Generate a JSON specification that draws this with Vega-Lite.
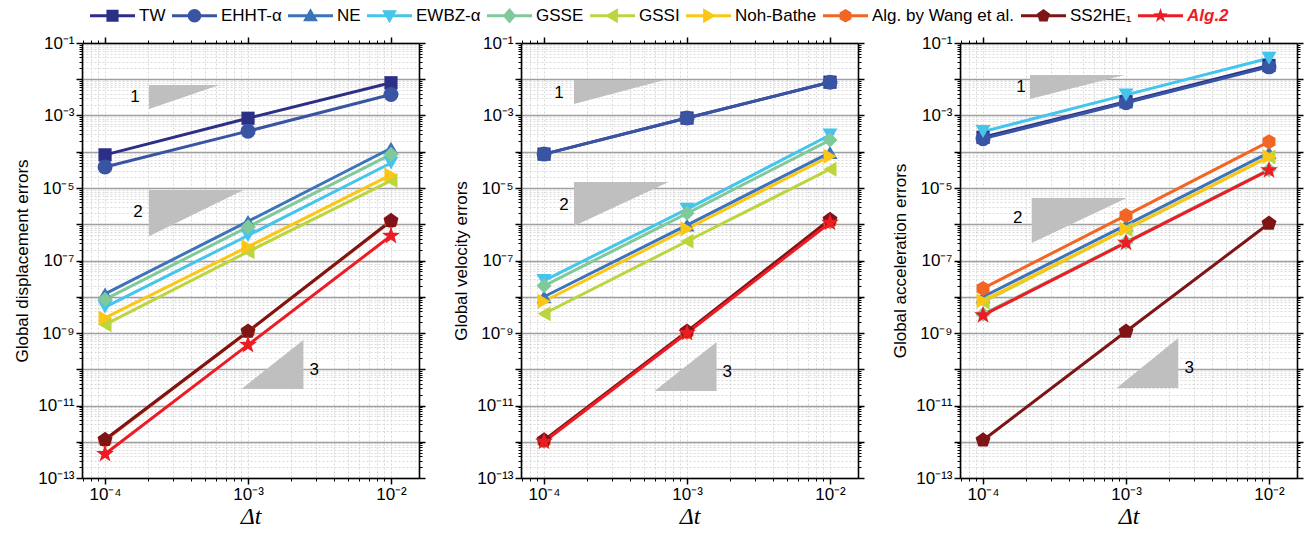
{
  "$schema": "https://vega.github.io/schema/vega-lite/v6.json",
  "padding": {"left": 13, "top": -7, "right": 13, "bottom": 5},
  "background": "white",
  "spacing": 102,
  "bounds": "flush",
  "config": {
    "view": {"stroke": null},
    "axis": {"labelFont": "Liberation Sans", "labelFontSize": 17, "labelColor": "black", "domainColor": "black", "domainWidth": 1.6, "tickColor": "black", "labelOverlap": false, "labelFlush": false, "labelBound": false, "titleColor": "black", "titleFontWeight": "normal"}
  },
  "datasets": {
    "err": [
      {"panel":"d","series":"TW","dt":0.0001,"err":8.2e-5},{"panel":"d","series":"TW","dt":0.001,"err":8.4e-4},{"panel":"d","series":"TW","dt":0.01,"err":8.0e-3},
      {"panel":"d","series":"EHHT-α","dt":0.0001,"err":3.8e-5},{"panel":"d","series":"EHHT-α","dt":0.001,"err":3.7e-4},{"panel":"d","series":"EHHT-α","dt":0.01,"err":3.8e-3},
      {"panel":"d","series":"NE","dt":0.0001,"err":1.2e-8},{"panel":"d","series":"NE","dt":0.001,"err":1.2e-6},{"panel":"d","series":"NE","dt":0.01,"err":1.25e-4},
      {"panel":"d","series":"EWBZ-α","dt":0.0001,"err":5.2e-9},{"panel":"d","series":"EWBZ-α","dt":0.001,"err":4.9e-7},{"panel":"d","series":"EWBZ-α","dt":0.01,"err":4.9e-5},
      {"panel":"d","series":"GSSE","dt":0.0001,"err":8.5e-9},{"panel":"d","series":"GSSE","dt":0.001,"err":8.5e-7},{"panel":"d","series":"GSSE","dt":0.01,"err":8.5e-5},
      {"panel":"d","series":"GSSI","dt":0.0001,"err":1.7e-9},{"panel":"d","series":"GSSI","dt":0.001,"err":1.75e-7},{"panel":"d","series":"GSSI","dt":0.01,"err":1.6e-5},
      {"panel":"d","series":"Noh-Bathe","dt":0.0001,"err":2.6e-9},{"panel":"d","series":"Noh-Bathe","dt":0.001,"err":2.4e-7},{"panel":"d","series":"Noh-Bathe","dt":0.01,"err":2.3e-5},
      {"panel":"d","series":"Alg. by Wang et al.","dt":0.0001,"err":1.1e-12},{"panel":"d","series":"Alg. by Wang et al.","dt":0.001,"err":1.1e-9},{"panel":"d","series":"Alg. by Wang et al.","dt":0.01,"err":1.2e-6},
      {"panel":"d","series":"SS2HE₁","dt":0.0001,"err":1.15e-12},{"panel":"d","series":"SS2HE₁","dt":0.001,"err":1.1e-9},{"panel":"d","series":"SS2HE₁","dt":0.01,"err":1.25e-6},
      {"panel":"d","series":"Alg.2","dt":0.0001,"err":4.6e-13},{"panel":"d","series":"Alg.2","dt":0.001,"err":4.7e-10},{"panel":"d","series":"Alg.2","dt":0.01,"err":4.8e-7},

      {"panel":"v","series":"TW","dt":0.0001,"err":8.6e-5},{"panel":"v","series":"TW","dt":0.001,"err":8.5e-4},{"panel":"v","series":"TW","dt":0.01,"err":8.3e-3},
      {"panel":"v","series":"EHHT-α","dt":0.0001,"err":8.6e-5},{"panel":"v","series":"EHHT-α","dt":0.001,"err":8.5e-4},{"panel":"v","series":"EHHT-α","dt":0.01,"err":8.3e-3},
      {"panel":"v","series":"NE","dt":0.0001,"err":1.0e-8},{"panel":"v","series":"NE","dt":0.001,"err":9.5e-7},{"panel":"v","series":"NE","dt":0.01,"err":9.5e-5},
      {"panel":"v","series":"EWBZ-α","dt":0.0001,"err":2.8e-8},{"panel":"v","series":"EWBZ-α","dt":0.001,"err":2.6e-6},{"panel":"v","series":"EWBZ-α","dt":0.01,"err":2.9e-4},
      {"panel":"v","series":"GSSE","dt":0.0001,"err":2.0e-8},{"panel":"v","series":"GSSE","dt":0.001,"err":2.0e-6},{"panel":"v","series":"GSSE","dt":0.01,"err":2.1e-4},
      {"panel":"v","series":"GSSI","dt":0.0001,"err":3.4e-9},{"panel":"v","series":"GSSI","dt":0.001,"err":3.4e-7},{"panel":"v","series":"GSSI","dt":0.01,"err":3.3e-5},
      {"panel":"v","series":"Noh-Bathe","dt":0.0001,"err":7.5e-9},{"panel":"v","series":"Noh-Bathe","dt":0.001,"err":7.5e-7},{"panel":"v","series":"Noh-Bathe","dt":0.01,"err":7.5e-5},
      {"panel":"v","series":"Alg. by Wang et al.","dt":0.0001,"err":1.05e-12},{"panel":"v","series":"Alg. by Wang et al.","dt":0.001,"err":1.05e-9},{"panel":"v","series":"Alg. by Wang et al.","dt":0.01,"err":1.2e-6},
      {"panel":"v","series":"SS2HE₁","dt":0.0001,"err":1.1e-12},{"panel":"v","series":"SS2HE₁","dt":0.001,"err":1.1e-9},{"panel":"v","series":"SS2HE₁","dt":0.01,"err":1.35e-6},
      {"panel":"v","series":"Alg.2","dt":0.0001,"err":1.0e-12},{"panel":"v","series":"Alg.2","dt":0.001,"err":1.0e-9},{"panel":"v","series":"Alg.2","dt":0.01,"err":1.1e-6},

      {"panel":"a","series":"TW","dt":0.0001,"err":2.5e-4},{"panel":"a","series":"TW","dt":0.001,"err":2.4e-3},{"panel":"a","series":"TW","dt":0.01,"err":2.4e-2},
      {"panel":"a","series":"EHHT-α","dt":0.0001,"err":2.3e-4},{"panel":"a","series":"EHHT-α","dt":0.001,"err":2.25e-3},{"panel":"a","series":"EHHT-α","dt":0.01,"err":2.2e-2},
      {"panel":"a","series":"NE","dt":0.0001,"err":1.0e-8},{"panel":"a","series":"NE","dt":0.001,"err":9.5e-7},{"panel":"a","series":"NE","dt":0.01,"err":9.5e-5},
      {"panel":"a","series":"EWBZ-α","dt":0.0001,"err":3.6e-4},{"panel":"a","series":"EWBZ-α","dt":0.001,"err":3.7e-3},{"panel":"a","series":"EWBZ-α","dt":0.01,"err":3.8e-2},
      {"panel":"a","series":"GSSE","dt":0.0001,"err":3.3e-9},{"panel":"a","series":"GSSE","dt":0.001,"err":3.2e-7},{"panel":"a","series":"GSSE","dt":0.01,"err":3.2e-5},
      {"panel":"a","series":"GSSI","dt":0.0001,"err":7.2e-9},{"panel":"a","series":"GSSI","dt":0.001,"err":7.2e-7},{"panel":"a","series":"GSSI","dt":0.01,"err":7.2e-5},
      {"panel":"a","series":"Noh-Bathe","dt":0.0001,"err":7.8e-9},{"panel":"a","series":"Noh-Bathe","dt":0.001,"err":7.4e-7},{"panel":"a","series":"Noh-Bathe","dt":0.01,"err":7.4e-5},
      {"panel":"a","series":"Alg. by Wang et al.","dt":0.0001,"err":1.7e-8},{"panel":"a","series":"Alg. by Wang et al.","dt":0.001,"err":1.75e-6},{"panel":"a","series":"Alg. by Wang et al.","dt":0.01,"err":1.9e-4},
      {"panel":"a","series":"SS2HE₁","dt":0.0001,"err":1.1e-12},{"panel":"a","series":"SS2HE₁","dt":0.001,"err":1.1e-9},{"panel":"a","series":"SS2HE₁","dt":0.01,"err":1.05e-6},
      {"panel":"a","series":"Alg.2","dt":0.0001,"err":3.1e-9},{"panel":"a","series":"Alg.2","dt":0.001,"err":3.1e-7},{"panel":"a","series":"Alg.2","dt":0.01,"err":3.1e-5}
    ],
    "tri": [
      {"panel":"d","tri":"1","dt":2.03e-4,"lo":1.5e-3,"hi":6.9e-3},{"panel":"d","tri":"1","dt":6.3e-4,"lo":6.9e-3,"hi":6.9e-3},
      {"panel":"d","tri":"2","dt":2.03e-4,"lo":4.7e-7,"hi":8.8e-6},{"panel":"d","tri":"2","dt":9.3e-4,"lo":8.8e-6,"hi":8.8e-6},
      {"panel":"d","tri":"3","dt":9.0e-4,"lo":2.85e-11,"hi":2.85e-11},{"panel":"d","tri":"3","dt":2.44e-3,"lo":2.85e-11,"hi":6.4e-10},
      {"panel":"v","tri":"1","dt":1.62e-4,"lo":2.07e-3,"hi":9.5e-3},{"panel":"v","tri":"1","dt":6.96e-4,"lo":9.5e-3,"hi":9.5e-3},
      {"panel":"v","tri":"2","dt":1.62e-4,"lo":8.95e-7,"hi":1.47e-5},{"panel":"v","tri":"2","dt":7.43e-4,"lo":1.47e-5,"hi":1.47e-5},
      {"panel":"v","tri":"3","dt":5.93e-4,"lo":2.5e-11,"hi":2.5e-11},{"panel":"v","tri":"3","dt":1.61e-3,"lo":2.5e-11,"hi":5.65e-10},
      {"panel":"a","tri":"1","dt":2.13e-4,"lo":2.85e-3,"hi":1.31e-2},{"panel":"a","tri":"1","dt":9.76e-4,"lo":1.31e-2,"hi":1.31e-2},
      {"panel":"a","tri":"2","dt":2.19e-4,"lo":3.04e-7,"hi":5.3e-6},{"panel":"a","tri":"2","dt":1.01e-3,"lo":5.3e-6,"hi":5.3e-6},
      {"panel":"a","tri":"3","dt":8.6e-4,"lo":3.04e-11,"hi":3.04e-11},{"panel":"a","tri":"3","dt":2.32e-3,"lo":3.04e-11,"hi":7.3e-10}
    ],
    "lab": [
      {"panel":"d","label":"1","dt":1.62e-4,"err":3.2e-3},{"panel":"d","label":"2","dt":1.7e-4,"err":2.2e-6},{"panel":"d","label":"3","dt":2.9e-3,"err":9.5e-11},
      {"panel":"v","label":"1","dt":1.27e-4,"err":4.2e-3},{"panel":"v","label":"2","dt":1.38e-4,"err":3.4e-6},{"panel":"v","label":"3","dt":1.91e-3,"err":8.4e-11},
      {"panel":"a","label":"1","dt":1.84e-4,"err":6.1e-3},{"panel":"a","label":"2","dt":1.75e-4,"err":1.49e-6},{"panel":"a","label":"3","dt":2.77e-3,"err":1.08e-10}
    ]
  },
  "hconcat": [
    {
      "width": 337, "height": 435,
      "resolve": {"axis": {"x": "independent", "y": "independent"}},
      "layer": [
        {
          "data": {"name": "tri"}, "transform": [{"filter": "datum.panel == 'd'"}],
          "mark": {"type": "area", "color": "#bfbfbf", "opacity": 1},
          "encoding": {
            "x": {"field": "dt", "type": "quantitative", "scale": {"type": "log", "domain": [6.9e-5, 0.0157], "nice": false}, "axis": null},
            "y": {"field": "hi", "type": "quantitative", "scale": {"type": "log", "domain": [1e-13, 0.1], "nice": false}, "axis": null},
            "y2": {"field": "lo"},
            "detail": {"field": "tri"}
          }
        },
        {
          "data": {"name": "lab"}, "transform": [{"filter": "datum.panel == 'd'"}],
          "mark": {"type": "text", "font": "Liberation Sans", "fontSize": 17, "color": "black"},
          "encoding": {
            "x": {"field": "dt", "type": "quantitative", "scale": {"type": "log", "domain": [6.9e-5, 0.0157], "nice": false}, "axis": null},
            "y": {"field": "err", "type": "quantitative", "scale": {"type": "log", "domain": [1e-13, 0.1], "nice": false}, "axis": null},
            "text": {"field": "label"}
          }
        },
        {
          "data": {"name": "err"}, "transform": [{"filter": "datum.panel == 'd'"}],
          "mark": {"type": "line", "strokeWidth": 3},
          "encoding": {
            "x": {"field": "dt", "type": "quantitative", "scale": {"type": "log", "domain": [6.9e-5, 0.0157], "nice": false},
              "axis": {"orient": "bottom", "title": "Δt", "titleFont": "Liberation Serif", "titleFontStyle": "italic", "titleFontSize": 24, "titlePadding": 2,
                "values": [7e-5,8e-5,9e-5,1e-4,2e-4,3e-4,4e-4,5e-4,6e-4,7e-4,8e-4,9e-4,1e-3,2e-3,3e-3,4e-3,5e-3,6e-3,7e-3,8e-3,9e-3,1e-2],
                "labelExpr": "abs(log(datum.value)/LN10-round(log(datum.value)/LN10))<0.01 ? '10' + ['','⁻¹','⁻²','⁻³','⁻⁴','⁻⁵'][round(-log(datum.value)/LN10)] : ''",
                "labelPadding": 2,
                "grid": true, "gridColor": "#cfcfcf", "gridDash": [2, 2], "gridWidth": 0.8,
                "tickSize": {"condition": {"test": "abs(log(datum.value)/LN10-round(log(datum.value)/LN10))<0.01", "value": 6}, "value": 3},
                "tickWidth": {"condition": {"test": "abs(log(datum.value)/LN10-round(log(datum.value)/LN10))<0.01", "value": 1.5}, "value": 1}}},
            "y": {"field": "err", "type": "quantitative", "scale": {"type": "log", "domain": [1e-13, 0.1], "nice": false},
              "axis": {"orient": "left", "title": "Global displacement errors", "titleFont": "Liberation Sans", "titleFontSize": 17, "titlePadding": 6,
                "values": [1e-13,2e-13,3e-13,4e-13,5e-13,6e-13,7e-13,8e-13,9e-13,1e-12,2e-12,3e-12,4e-12,5e-12,6e-12,7e-12,8e-12,9e-12,1e-11,2e-11,3e-11,4e-11,5e-11,6e-11,7e-11,8e-11,9e-11,1e-10,2e-10,3e-10,4e-10,5e-10,6e-10,7e-10,8e-10,9e-10,1e-9,2e-9,3e-9,4e-9,5e-9,6e-9,7e-9,8e-9,9e-9,1e-8,2e-8,3e-8,4e-8,5e-8,6e-8,7e-8,8e-8,9e-8,1e-7,2e-7,3e-7,4e-7,5e-7,6e-7,7e-7,8e-7,9e-7,1e-6,2e-6,3e-6,4e-6,5e-6,6e-6,7e-6,8e-6,9e-6,1e-5,2e-5,3e-5,4e-5,5e-5,6e-5,7e-5,8e-5,9e-5,1e-4,2e-4,3e-4,4e-4,5e-4,6e-4,7e-4,8e-4,9e-4,1e-3,2e-3,3e-3,4e-3,5e-3,6e-3,7e-3,8e-3,9e-3,1e-2,2e-2,3e-2,4e-2,5e-2,6e-2,7e-2,8e-2,9e-2,1e-1],
                "labelExpr": "abs(log(datum.value)/LN10-round(log(datum.value)/LN10))<0.01 && round(-log(datum.value)/LN10) % 2 == 1 ? '10' + ['','⁻¹','⁻²','⁻³','⁻⁴','⁻⁵','⁻⁶','⁻⁷','⁻⁸','⁻⁹','⁻¹⁰','⁻¹¹','⁻¹²','⁻¹³'][round(-log(datum.value)/LN10)] : ''",
                "labelPadding": 2,
                "grid": true,
                "gridColor": {"condition": {"test": "abs(log(datum.value)/LN10-round(log(datum.value)/LN10))<0.01", "value": "#a0a0a0"}, "value": "#d2d2d2"},
                "gridDash": {"condition": {"test": "abs(log(datum.value)/LN10-round(log(datum.value)/LN10))<0.01", "value": []}, "value": [2, 2]},
                "gridWidth": {"condition": {"test": "abs(log(datum.value)/LN10-round(log(datum.value)/LN10))<0.01", "value": 1.3}, "value": 0.8},
                "tickSize": {"condition": {"test": "abs(log(datum.value)/LN10-round(log(datum.value)/LN10))<0.01", "value": 6}, "value": 3},
                "tickWidth": {"condition": {"test": "abs(log(datum.value)/LN10-round(log(datum.value)/LN10))<0.01", "value": 1.5}, "value": 1}}},
            "color": {"field": "series", "type": "nominal", "legend": null,
              "scale": {"domain": ["Alg.2","SS2HE₁","Alg. by Wang et al.","Noh-Bathe","GSSI","GSSE","EWBZ-α","NE","EHHT-α","TW"], "range": ["#ed1c24","#7e1416","#f26522","#fcc615","#bdd53d","#80c99b","#45c4ec","#3d74b9","#3a54a4","#2b2f86"]}}
          }
        },
        {
          "data": {"name": "err"}, "transform": [{"filter": "datum.panel == 'd'"}],
          "mark": {"type": "point", "filled": true, "size": 225, "opacity": 1, "strokeWidth": 0},
          "encoding": {
            "x": {"field": "dt", "type": "quantitative", "scale": {"type": "log", "domain": [6.9e-5, 0.0157], "nice": false},
              "axis": {"orient": "top", "title": null, "labels": false, "grid": false,
                "values": [7e-5,8e-5,9e-5,1e-4,2e-4,3e-4,4e-4,5e-4,6e-4,7e-4,8e-4,9e-4,1e-3,2e-3,3e-3,4e-3,5e-3,6e-3,7e-3,8e-3,9e-3,1e-2],
                "tickSize": {"condition": {"test": "abs(log(datum.value)/LN10-round(log(datum.value)/LN10))<0.01", "value": 6}, "value": 3},
                "tickWidth": {"condition": {"test": "abs(log(datum.value)/LN10-round(log(datum.value)/LN10))<0.01", "value": 1.5}, "value": 1}}},
            "y": {"field": "err", "type": "quantitative", "scale": {"type": "log", "domain": [1e-13, 0.1], "nice": false},
              "axis": {"orient": "right", "title": null, "labels": false, "grid": false,
                "values": [1e-13,2e-13,3e-13,4e-13,5e-13,6e-13,7e-13,8e-13,9e-13,1e-12,2e-12,3e-12,4e-12,5e-12,6e-12,7e-12,8e-12,9e-12,1e-11,2e-11,3e-11,4e-11,5e-11,6e-11,7e-11,8e-11,9e-11,1e-10,2e-10,3e-10,4e-10,5e-10,6e-10,7e-10,8e-10,9e-10,1e-9,2e-9,3e-9,4e-9,5e-9,6e-9,7e-9,8e-9,9e-9,1e-8,2e-8,3e-8,4e-8,5e-8,6e-8,7e-8,8e-8,9e-8,1e-7,2e-7,3e-7,4e-7,5e-7,6e-7,7e-7,8e-7,9e-7,1e-6,2e-6,3e-6,4e-6,5e-6,6e-6,7e-6,8e-6,9e-6,1e-5,2e-5,3e-5,4e-5,5e-5,6e-5,7e-5,8e-5,9e-5,1e-4,2e-4,3e-4,4e-4,5e-4,6e-4,7e-4,8e-4,9e-4,1e-3,2e-3,3e-3,4e-3,5e-3,6e-3,7e-3,8e-3,9e-3,1e-2,2e-2,3e-2,4e-2,5e-2,6e-2,7e-2,8e-2,9e-2,1e-1],
                "tickSize": {"condition": {"test": "abs(log(datum.value)/LN10-round(log(datum.value)/LN10))<0.01", "value": 6}, "value": 3},
                "tickWidth": {"condition": {"test": "abs(log(datum.value)/LN10-round(log(datum.value)/LN10))<0.01", "value": 1.5}, "value": 1}}},
            "fill": {"field": "series", "type": "nominal",
              "scale": {"domain": ["TW","EHHT-α","NE","EWBZ-α","GSSE","GSSI","Noh-Bathe","Alg. by Wang et al.","SS2HE₁","Alg.2"], "range": ["#2b2f86","#3a54a4","#3d74b9","#45c4ec","#80c99b","#bdd53d","#fcc615","#f26522","#7e1416","#ed1c24"]},
              "legend": {"orient": "none", "legendX": 8, "legendY": -50, "direction": "horizontal", "title": null, "padding": 0,
                "symbolSize": 2025, "symbolStrokeWidth": 0, "symbolOpacity": 1,
                "symbolType": {"expr": "['M-1,-0.067H1V0.067H-1Z M-0.27,-0.27H0.27V0.27H-0.27Z','M-1,-0.067H1V0.067H-1Z M-0.3,0A0.3,0.3 0 1,1 0.3,0A0.3,0.3 0 1,1 -0.3,0Z','M-1,-0.067H1V0.067H-1Z M0,-0.33L0.33,0.24L-0.33,0.24Z','M-1,-0.067H1V0.067H-1Z M0,0.33L-0.33,-0.24L0.33,-0.24Z','M-1,-0.067H1V0.067H-1Z M0,-0.34L0.3,0L0,0.34L-0.3,0Z','M-1,-0.067H1V0.067H-1Z M-0.33,0L0.24,-0.33L0.24,0.33Z','M-1,-0.067H1V0.067H-1Z M0.33,0L-0.24,0.33L-0.24,-0.33Z','M-1,-0.067H1V0.067H-1Z M0,-0.3L0.26,-0.15L0.26,0.15L0,0.3L-0.26,0.15L-0.26,-0.15Z','M-1,-0.067H1V0.067H-1Z M0,-0.3L0.29,-0.09L0.18,0.25L-0.18,0.25L-0.29,-0.09Z','M-1,-0.067H1V0.067H-1Z M0,-0.34L0.08,-0.11L0.323,-0.105L0.129,0.042L0.2,0.275L0,0.136L-0.2,0.275L-0.129,0.042L-0.323,-0.105L-0.08,-0.11Z'][indexof(['TW','EHHT-α','NE','EWBZ-α','GSSE','GSSI','Noh-Bathe','Alg. by Wang et al.','SS2HE₁','Alg.2'], datum.value)]"},
                "labelFont": "Liberation Sans", "labelFontSize": 17, "labelOffset": 4, "columnPadding": 6, "labelLimit": 300,
                "labelColor": {"expr": "datum.value == 'Alg.2' ? '#ed1c24' : 'black'"},
                "labelFontWeight": {"expr": "datum.value == 'Alg.2' ? 'bold' : 'normal'"},
                "labelFontStyle": {"expr": "datum.value == 'Alg.2' ? 'italic' : 'normal'"}}},
            "shape": {"field": "series", "type": "nominal", "legend": null,
              "scale": {"domain": ["EHHT-α","NE","EWBZ-α","GSSE","GSSI","Noh-Bathe","Alg. by Wang et al.","SS2HE₁","Alg.2","TW"], "range": ["circle","triangle-up","triangle-down","diamond","triangle-left","triangle-right","M0,-1L0.866,-0.5L0.866,0.5L0,1L-0.866,0.5L-0.866,-0.5Z","M0,-1.05L1,-0.32L0.62,0.85L-0.62,0.85L-1,-0.32Z","M0,-1.25L0.294,-0.405L1.189,-0.386L0.476,0.155L0.735,1.011L0,0.5L-0.735,1.011L-0.476,0.155L-1.189,-0.386L-0.294,-0.405Z","M-0.88,-0.88H0.88V0.88H-0.88Z"]}}
          }
        }
      ]
    },
    {
      "width": 337, "height": 435,
      "resolve": {"axis": {"x": "independent", "y": "independent"}},
      "layer": [
        {
          "data": {"name": "tri"}, "transform": [{"filter": "datum.panel == 'v'"}],
          "mark": {"type": "area", "color": "#bfbfbf", "opacity": 1},
          "encoding": {
            "x": {"field": "dt", "type": "quantitative", "scale": {"type": "log", "domain": [6.9e-5, 0.0157], "nice": false}, "axis": null},
            "y": {"field": "hi", "type": "quantitative", "scale": {"type": "log", "domain": [1e-13, 0.1], "nice": false}, "axis": null},
            "y2": {"field": "lo"},
            "detail": {"field": "tri"}
          }
        },
        {
          "data": {"name": "lab"}, "transform": [{"filter": "datum.panel == 'v'"}],
          "mark": {"type": "text", "font": "Liberation Sans", "fontSize": 17, "color": "black"},
          "encoding": {
            "x": {"field": "dt", "type": "quantitative", "scale": {"type": "log", "domain": [6.9e-5, 0.0157], "nice": false}, "axis": null},
            "y": {"field": "err", "type": "quantitative", "scale": {"type": "log", "domain": [1e-13, 0.1], "nice": false}, "axis": null},
            "text": {"field": "label"}
          }
        },
        {
          "data": {"name": "err"}, "transform": [{"filter": "datum.panel == 'v'"}],
          "mark": {"type": "line", "strokeWidth": 3},
          "encoding": {
            "x": {"field": "dt", "type": "quantitative", "scale": {"type": "log", "domain": [6.9e-5, 0.0157], "nice": false},
              "axis": {"orient": "bottom", "title": "Δt", "titleFont": "Liberation Serif", "titleFontStyle": "italic", "titleFontSize": 24, "titlePadding": 2,
                "values": [7e-5,8e-5,9e-5,1e-4,2e-4,3e-4,4e-4,5e-4,6e-4,7e-4,8e-4,9e-4,1e-3,2e-3,3e-3,4e-3,5e-3,6e-3,7e-3,8e-3,9e-3,1e-2],
                "labelExpr": "abs(log(datum.value)/LN10-round(log(datum.value)/LN10))<0.01 ? '10' + ['','⁻¹','⁻²','⁻³','⁻⁴','⁻⁵'][round(-log(datum.value)/LN10)] : ''",
                "labelPadding": 2,
                "grid": true, "gridColor": "#cfcfcf", "gridDash": [2, 2], "gridWidth": 0.8,
                "tickSize": {"condition": {"test": "abs(log(datum.value)/LN10-round(log(datum.value)/LN10))<0.01", "value": 6}, "value": 3},
                "tickWidth": {"condition": {"test": "abs(log(datum.value)/LN10-round(log(datum.value)/LN10))<0.01", "value": 1.5}, "value": 1}}},
            "y": {"field": "err", "type": "quantitative", "scale": {"type": "log", "domain": [1e-13, 0.1], "nice": false},
              "axis": {"orient": "left", "title": "Global velocity errors", "titleFont": "Liberation Sans", "titleFontSize": 17, "titlePadding": 6,
                "values": [1e-13,2e-13,3e-13,4e-13,5e-13,6e-13,7e-13,8e-13,9e-13,1e-12,2e-12,3e-12,4e-12,5e-12,6e-12,7e-12,8e-12,9e-12,1e-11,2e-11,3e-11,4e-11,5e-11,6e-11,7e-11,8e-11,9e-11,1e-10,2e-10,3e-10,4e-10,5e-10,6e-10,7e-10,8e-10,9e-10,1e-9,2e-9,3e-9,4e-9,5e-9,6e-9,7e-9,8e-9,9e-9,1e-8,2e-8,3e-8,4e-8,5e-8,6e-8,7e-8,8e-8,9e-8,1e-7,2e-7,3e-7,4e-7,5e-7,6e-7,7e-7,8e-7,9e-7,1e-6,2e-6,3e-6,4e-6,5e-6,6e-6,7e-6,8e-6,9e-6,1e-5,2e-5,3e-5,4e-5,5e-5,6e-5,7e-5,8e-5,9e-5,1e-4,2e-4,3e-4,4e-4,5e-4,6e-4,7e-4,8e-4,9e-4,1e-3,2e-3,3e-3,4e-3,5e-3,6e-3,7e-3,8e-3,9e-3,1e-2,2e-2,3e-2,4e-2,5e-2,6e-2,7e-2,8e-2,9e-2,1e-1],
                "labelExpr": "abs(log(datum.value)/LN10-round(log(datum.value)/LN10))<0.01 && round(-log(datum.value)/LN10) % 2 == 1 ? '10' + ['','⁻¹','⁻²','⁻³','⁻⁴','⁻⁵','⁻⁶','⁻⁷','⁻⁸','⁻⁹','⁻¹⁰','⁻¹¹','⁻¹²','⁻¹³'][round(-log(datum.value)/LN10)] : ''",
                "labelPadding": 2,
                "grid": true,
                "gridColor": {"condition": {"test": "abs(log(datum.value)/LN10-round(log(datum.value)/LN10))<0.01", "value": "#a0a0a0"}, "value": "#d2d2d2"},
                "gridDash": {"condition": {"test": "abs(log(datum.value)/LN10-round(log(datum.value)/LN10))<0.01", "value": []}, "value": [2, 2]},
                "gridWidth": {"condition": {"test": "abs(log(datum.value)/LN10-round(log(datum.value)/LN10))<0.01", "value": 1.3}, "value": 0.8},
                "tickSize": {"condition": {"test": "abs(log(datum.value)/LN10-round(log(datum.value)/LN10))<0.01", "value": 6}, "value": 3},
                "tickWidth": {"condition": {"test": "abs(log(datum.value)/LN10-round(log(datum.value)/LN10))<0.01", "value": 1.5}, "value": 1}}},
            "color": {"field": "series", "type": "nominal", "legend": null,
              "scale": {"domain": ["Alg.2","SS2HE₁","Alg. by Wang et al.","Noh-Bathe","GSSI","GSSE","EWBZ-α","NE","EHHT-α","TW"], "range": ["#ed1c24","#7e1416","#f26522","#fcc615","#bdd53d","#80c99b","#45c4ec","#3d74b9","#3a54a4","#2b2f86"]}}
          }
        },
        {
          "data": {"name": "err"}, "transform": [{"filter": "datum.panel == 'v'"}],
          "mark": {"type": "point", "filled": true, "size": 225, "opacity": 1, "strokeWidth": 0},
          "encoding": {
            "x": {"field": "dt", "type": "quantitative", "scale": {"type": "log", "domain": [6.9e-5, 0.0157], "nice": false},
              "axis": {"orient": "top", "title": null, "labels": false, "grid": false,
                "values": [7e-5,8e-5,9e-5,1e-4,2e-4,3e-4,4e-4,5e-4,6e-4,7e-4,8e-4,9e-4,1e-3,2e-3,3e-3,4e-3,5e-3,6e-3,7e-3,8e-3,9e-3,1e-2],
                "tickSize": {"condition": {"test": "abs(log(datum.value)/LN10-round(log(datum.value)/LN10))<0.01", "value": 6}, "value": 3},
                "tickWidth": {"condition": {"test": "abs(log(datum.value)/LN10-round(log(datum.value)/LN10))<0.01", "value": 1.5}, "value": 1}}},
            "y": {"field": "err", "type": "quantitative", "scale": {"type": "log", "domain": [1e-13, 0.1], "nice": false},
              "axis": {"orient": "right", "title": null, "labels": false, "grid": false,
                "values": [1e-13,2e-13,3e-13,4e-13,5e-13,6e-13,7e-13,8e-13,9e-13,1e-12,2e-12,3e-12,4e-12,5e-12,6e-12,7e-12,8e-12,9e-12,1e-11,2e-11,3e-11,4e-11,5e-11,6e-11,7e-11,8e-11,9e-11,1e-10,2e-10,3e-10,4e-10,5e-10,6e-10,7e-10,8e-10,9e-10,1e-9,2e-9,3e-9,4e-9,5e-9,6e-9,7e-9,8e-9,9e-9,1e-8,2e-8,3e-8,4e-8,5e-8,6e-8,7e-8,8e-8,9e-8,1e-7,2e-7,3e-7,4e-7,5e-7,6e-7,7e-7,8e-7,9e-7,1e-6,2e-6,3e-6,4e-6,5e-6,6e-6,7e-6,8e-6,9e-6,1e-5,2e-5,3e-5,4e-5,5e-5,6e-5,7e-5,8e-5,9e-5,1e-4,2e-4,3e-4,4e-4,5e-4,6e-4,7e-4,8e-4,9e-4,1e-3,2e-3,3e-3,4e-3,5e-3,6e-3,7e-3,8e-3,9e-3,1e-2,2e-2,3e-2,4e-2,5e-2,6e-2,7e-2,8e-2,9e-2,1e-1],
                "tickSize": {"condition": {"test": "abs(log(datum.value)/LN10-round(log(datum.value)/LN10))<0.01", "value": 6}, "value": 3},
                "tickWidth": {"condition": {"test": "abs(log(datum.value)/LN10-round(log(datum.value)/LN10))<0.01", "value": 1.5}, "value": 1}}},
            "fill": {"field": "series", "type": "nominal",
              "scale": {"domain": ["TW","EHHT-α","NE","EWBZ-α","GSSE","GSSI","Noh-Bathe","Alg. by Wang et al.","SS2HE₁","Alg.2"], "range": ["#2b2f86","#3a54a4","#3d74b9","#45c4ec","#80c99b","#bdd53d","#fcc615","#f26522","#7e1416","#ed1c24"]},
              "legend": {"orient": "none", "legendX": 8, "legendY": -50, "direction": "horizontal", "title": null, "padding": 0,
                "symbolSize": 2025, "symbolStrokeWidth": 0, "symbolOpacity": 1,
                "symbolType": {"expr": "['M-1,-0.067H1V0.067H-1Z M-0.27,-0.27H0.27V0.27H-0.27Z','M-1,-0.067H1V0.067H-1Z M-0.3,0A0.3,0.3 0 1,1 0.3,0A0.3,0.3 0 1,1 -0.3,0Z','M-1,-0.067H1V0.067H-1Z M0,-0.33L0.33,0.24L-0.33,0.24Z','M-1,-0.067H1V0.067H-1Z M0,0.33L-0.33,-0.24L0.33,-0.24Z','M-1,-0.067H1V0.067H-1Z M0,-0.34L0.3,0L0,0.34L-0.3,0Z','M-1,-0.067H1V0.067H-1Z M-0.33,0L0.24,-0.33L0.24,0.33Z','M-1,-0.067H1V0.067H-1Z M0.33,0L-0.24,0.33L-0.24,-0.33Z','M-1,-0.067H1V0.067H-1Z M0,-0.3L0.26,-0.15L0.26,0.15L0,0.3L-0.26,0.15L-0.26,-0.15Z','M-1,-0.067H1V0.067H-1Z M0,-0.3L0.29,-0.09L0.18,0.25L-0.18,0.25L-0.29,-0.09Z','M-1,-0.067H1V0.067H-1Z M0,-0.34L0.08,-0.11L0.323,-0.105L0.129,0.042L0.2,0.275L0,0.136L-0.2,0.275L-0.129,0.042L-0.323,-0.105L-0.08,-0.11Z'][indexof(['TW','EHHT-α','NE','EWBZ-α','GSSE','GSSI','Noh-Bathe','Alg. by Wang et al.','SS2HE₁','Alg.2'], datum.value)]"},
                "labelFont": "Liberation Sans", "labelFontSize": 17, "labelOffset": 4, "columnPadding": 6, "labelLimit": 300,
                "labelColor": {"expr": "datum.value == 'Alg.2' ? '#ed1c24' : 'black'"},
                "labelFontWeight": {"expr": "datum.value == 'Alg.2' ? 'bold' : 'normal'"},
                "labelFontStyle": {"expr": "datum.value == 'Alg.2' ? 'italic' : 'normal'"}}},
            "shape": {"field": "series", "type": "nominal", "legend": null,
              "scale": {"domain": ["EHHT-α","NE","EWBZ-α","GSSE","GSSI","Noh-Bathe","Alg. by Wang et al.","SS2HE₁","Alg.2","TW"], "range": ["circle","triangle-up","triangle-down","diamond","triangle-left","triangle-right","M0,-1L0.866,-0.5L0.866,0.5L0,1L-0.866,0.5L-0.866,-0.5Z","M0,-1.05L1,-0.32L0.62,0.85L-0.62,0.85L-1,-0.32Z","M0,-1.25L0.294,-0.405L1.189,-0.386L0.476,0.155L0.735,1.011L0,0.5L-0.735,1.011L-0.476,0.155L-1.189,-0.386L-0.294,-0.405Z","M-0.88,-0.88H0.88V0.88H-0.88Z"]}}
          }
        }
      ]
    },
    {
      "width": 337, "height": 435,
      "resolve": {"axis": {"x": "independent", "y": "independent"}},
      "layer": [
        {
          "data": {"name": "tri"}, "transform": [{"filter": "datum.panel == 'a'"}],
          "mark": {"type": "area", "color": "#bfbfbf", "opacity": 1},
          "encoding": {
            "x": {"field": "dt", "type": "quantitative", "scale": {"type": "log", "domain": [6.9e-5, 0.0157], "nice": false}, "axis": null},
            "y": {"field": "hi", "type": "quantitative", "scale": {"type": "log", "domain": [1e-13, 0.1], "nice": false}, "axis": null},
            "y2": {"field": "lo"},
            "detail": {"field": "tri"}
          }
        },
        {
          "data": {"name": "lab"}, "transform": [{"filter": "datum.panel == 'a'"}],
          "mark": {"type": "text", "font": "Liberation Sans", "fontSize": 17, "color": "black"},
          "encoding": {
            "x": {"field": "dt", "type": "quantitative", "scale": {"type": "log", "domain": [6.9e-5, 0.0157], "nice": false}, "axis": null},
            "y": {"field": "err", "type": "quantitative", "scale": {"type": "log", "domain": [1e-13, 0.1], "nice": false}, "axis": null},
            "text": {"field": "label"}
          }
        },
        {
          "data": {"name": "err"}, "transform": [{"filter": "datum.panel == 'a'"}],
          "mark": {"type": "line", "strokeWidth": 3},
          "encoding": {
            "x": {"field": "dt", "type": "quantitative", "scale": {"type": "log", "domain": [6.9e-5, 0.0157], "nice": false},
              "axis": {"orient": "bottom", "title": "Δt", "titleFont": "Liberation Serif", "titleFontStyle": "italic", "titleFontSize": 24, "titlePadding": 2,
                "values": [7e-5,8e-5,9e-5,1e-4,2e-4,3e-4,4e-4,5e-4,6e-4,7e-4,8e-4,9e-4,1e-3,2e-3,3e-3,4e-3,5e-3,6e-3,7e-3,8e-3,9e-3,1e-2],
                "labelExpr": "abs(log(datum.value)/LN10-round(log(datum.value)/LN10))<0.01 ? '10' + ['','⁻¹','⁻²','⁻³','⁻⁴','⁻⁵'][round(-log(datum.value)/LN10)] : ''",
                "labelPadding": 2,
                "grid": true, "gridColor": "#cfcfcf", "gridDash": [2, 2], "gridWidth": 0.8,
                "tickSize": {"condition": {"test": "abs(log(datum.value)/LN10-round(log(datum.value)/LN10))<0.01", "value": 6}, "value": 3},
                "tickWidth": {"condition": {"test": "abs(log(datum.value)/LN10-round(log(datum.value)/LN10))<0.01", "value": 1.5}, "value": 1}}},
            "y": {"field": "err", "type": "quantitative", "scale": {"type": "log", "domain": [1e-13, 0.1], "nice": false},
              "axis": {"orient": "left", "title": "Global acceleration errors", "titleFont": "Liberation Sans", "titleFontSize": 17, "titlePadding": 6,
                "values": [1e-13,2e-13,3e-13,4e-13,5e-13,6e-13,7e-13,8e-13,9e-13,1e-12,2e-12,3e-12,4e-12,5e-12,6e-12,7e-12,8e-12,9e-12,1e-11,2e-11,3e-11,4e-11,5e-11,6e-11,7e-11,8e-11,9e-11,1e-10,2e-10,3e-10,4e-10,5e-10,6e-10,7e-10,8e-10,9e-10,1e-9,2e-9,3e-9,4e-9,5e-9,6e-9,7e-9,8e-9,9e-9,1e-8,2e-8,3e-8,4e-8,5e-8,6e-8,7e-8,8e-8,9e-8,1e-7,2e-7,3e-7,4e-7,5e-7,6e-7,7e-7,8e-7,9e-7,1e-6,2e-6,3e-6,4e-6,5e-6,6e-6,7e-6,8e-6,9e-6,1e-5,2e-5,3e-5,4e-5,5e-5,6e-5,7e-5,8e-5,9e-5,1e-4,2e-4,3e-4,4e-4,5e-4,6e-4,7e-4,8e-4,9e-4,1e-3,2e-3,3e-3,4e-3,5e-3,6e-3,7e-3,8e-3,9e-3,1e-2,2e-2,3e-2,4e-2,5e-2,6e-2,7e-2,8e-2,9e-2,1e-1],
                "labelExpr": "abs(log(datum.value)/LN10-round(log(datum.value)/LN10))<0.01 && round(-log(datum.value)/LN10) % 2 == 1 ? '10' + ['','⁻¹','⁻²','⁻³','⁻⁴','⁻⁵','⁻⁶','⁻⁷','⁻⁸','⁻⁹','⁻¹⁰','⁻¹¹','⁻¹²','⁻¹³'][round(-log(datum.value)/LN10)] : ''",
                "labelPadding": 2,
                "grid": true,
                "gridColor": {"condition": {"test": "abs(log(datum.value)/LN10-round(log(datum.value)/LN10))<0.01", "value": "#a0a0a0"}, "value": "#d2d2d2"},
                "gridDash": {"condition": {"test": "abs(log(datum.value)/LN10-round(log(datum.value)/LN10))<0.01", "value": []}, "value": [2, 2]},
                "gridWidth": {"condition": {"test": "abs(log(datum.value)/LN10-round(log(datum.value)/LN10))<0.01", "value": 1.3}, "value": 0.8},
                "tickSize": {"condition": {"test": "abs(log(datum.value)/LN10-round(log(datum.value)/LN10))<0.01", "value": 6}, "value": 3},
                "tickWidth": {"condition": {"test": "abs(log(datum.value)/LN10-round(log(datum.value)/LN10))<0.01", "value": 1.5}, "value": 1}}},
            "color": {"field": "series", "type": "nominal", "legend": null,
              "scale": {"domain": ["Alg.2","SS2HE₁","Alg. by Wang et al.","Noh-Bathe","GSSI","GSSE","EWBZ-α","NE","EHHT-α","TW"], "range": ["#ed1c24","#7e1416","#f26522","#fcc615","#bdd53d","#80c99b","#45c4ec","#3d74b9","#3a54a4","#2b2f86"]}}
          }
        },
        {
          "data": {"name": "err"}, "transform": [{"filter": "datum.panel == 'a'"}],
          "mark": {"type": "point", "filled": true, "size": 225, "opacity": 1, "strokeWidth": 0},
          "encoding": {
            "x": {"field": "dt", "type": "quantitative", "scale": {"type": "log", "domain": [6.9e-5, 0.0157], "nice": false},
              "axis": {"orient": "top", "title": null, "labels": false, "grid": false,
                "values": [7e-5,8e-5,9e-5,1e-4,2e-4,3e-4,4e-4,5e-4,6e-4,7e-4,8e-4,9e-4,1e-3,2e-3,3e-3,4e-3,5e-3,6e-3,7e-3,8e-3,9e-3,1e-2],
                "tickSize": {"condition": {"test": "abs(log(datum.value)/LN10-round(log(datum.value)/LN10))<0.01", "value": 6}, "value": 3},
                "tickWidth": {"condition": {"test": "abs(log(datum.value)/LN10-round(log(datum.value)/LN10))<0.01", "value": 1.5}, "value": 1}}},
            "y": {"field": "err", "type": "quantitative", "scale": {"type": "log", "domain": [1e-13, 0.1], "nice": false},
              "axis": {"orient": "right", "title": null, "labels": false, "grid": false,
                "values": [1e-13,2e-13,3e-13,4e-13,5e-13,6e-13,7e-13,8e-13,9e-13,1e-12,2e-12,3e-12,4e-12,5e-12,6e-12,7e-12,8e-12,9e-12,1e-11,2e-11,3e-11,4e-11,5e-11,6e-11,7e-11,8e-11,9e-11,1e-10,2e-10,3e-10,4e-10,5e-10,6e-10,7e-10,8e-10,9e-10,1e-9,2e-9,3e-9,4e-9,5e-9,6e-9,7e-9,8e-9,9e-9,1e-8,2e-8,3e-8,4e-8,5e-8,6e-8,7e-8,8e-8,9e-8,1e-7,2e-7,3e-7,4e-7,5e-7,6e-7,7e-7,8e-7,9e-7,1e-6,2e-6,3e-6,4e-6,5e-6,6e-6,7e-6,8e-6,9e-6,1e-5,2e-5,3e-5,4e-5,5e-5,6e-5,7e-5,8e-5,9e-5,1e-4,2e-4,3e-4,4e-4,5e-4,6e-4,7e-4,8e-4,9e-4,1e-3,2e-3,3e-3,4e-3,5e-3,6e-3,7e-3,8e-3,9e-3,1e-2,2e-2,3e-2,4e-2,5e-2,6e-2,7e-2,8e-2,9e-2,1e-1],
                "tickSize": {"condition": {"test": "abs(log(datum.value)/LN10-round(log(datum.value)/LN10))<0.01", "value": 6}, "value": 3},
                "tickWidth": {"condition": {"test": "abs(log(datum.value)/LN10-round(log(datum.value)/LN10))<0.01", "value": 1.5}, "value": 1}}},
            "fill": {"field": "series", "type": "nominal",
              "scale": {"domain": ["TW","EHHT-α","NE","EWBZ-α","GSSE","GSSI","Noh-Bathe","Alg. by Wang et al.","SS2HE₁","Alg.2"], "range": ["#2b2f86","#3a54a4","#3d74b9","#45c4ec","#80c99b","#bdd53d","#fcc615","#f26522","#7e1416","#ed1c24"]},
              "legend": {"orient": "none", "legendX": 8, "legendY": -50, "direction": "horizontal", "title": null, "padding": 0,
                "symbolSize": 2025, "symbolStrokeWidth": 0, "symbolOpacity": 1,
                "symbolType": {"expr": "['M-1,-0.067H1V0.067H-1Z M-0.27,-0.27H0.27V0.27H-0.27Z','M-1,-0.067H1V0.067H-1Z M-0.3,0A0.3,0.3 0 1,1 0.3,0A0.3,0.3 0 1,1 -0.3,0Z','M-1,-0.067H1V0.067H-1Z M0,-0.33L0.33,0.24L-0.33,0.24Z','M-1,-0.067H1V0.067H-1Z M0,0.33L-0.33,-0.24L0.33,-0.24Z','M-1,-0.067H1V0.067H-1Z M0,-0.34L0.3,0L0,0.34L-0.3,0Z','M-1,-0.067H1V0.067H-1Z M-0.33,0L0.24,-0.33L0.24,0.33Z','M-1,-0.067H1V0.067H-1Z M0.33,0L-0.24,0.33L-0.24,-0.33Z','M-1,-0.067H1V0.067H-1Z M0,-0.3L0.26,-0.15L0.26,0.15L0,0.3L-0.26,0.15L-0.26,-0.15Z','M-1,-0.067H1V0.067H-1Z M0,-0.3L0.29,-0.09L0.18,0.25L-0.18,0.25L-0.29,-0.09Z','M-1,-0.067H1V0.067H-1Z M0,-0.34L0.08,-0.11L0.323,-0.105L0.129,0.042L0.2,0.275L0,0.136L-0.2,0.275L-0.129,0.042L-0.323,-0.105L-0.08,-0.11Z'][indexof(['TW','EHHT-α','NE','EWBZ-α','GSSE','GSSI','Noh-Bathe','Alg. by Wang et al.','SS2HE₁','Alg.2'], datum.value)]"},
                "labelFont": "Liberation Sans", "labelFontSize": 17, "labelOffset": 4, "columnPadding": 6, "labelLimit": 300,
                "labelColor": {"expr": "datum.value == 'Alg.2' ? '#ed1c24' : 'black'"},
                "labelFontWeight": {"expr": "datum.value == 'Alg.2' ? 'bold' : 'normal'"},
                "labelFontStyle": {"expr": "datum.value == 'Alg.2' ? 'italic' : 'normal'"}}},
            "shape": {"field": "series", "type": "nominal", "legend": null,
              "scale": {"domain": ["EHHT-α","NE","EWBZ-α","GSSE","GSSI","Noh-Bathe","Alg. by Wang et al.","SS2HE₁","Alg.2","TW"], "range": ["circle","triangle-up","triangle-down","diamond","triangle-left","triangle-right","M0,-1L0.866,-0.5L0.866,0.5L0,1L-0.866,0.5L-0.866,-0.5Z","M0,-1.05L1,-0.32L0.62,0.85L-0.62,0.85L-1,-0.32Z","M0,-1.25L0.294,-0.405L1.189,-0.386L0.476,0.155L0.735,1.011L0,0.5L-0.735,1.011L-0.476,0.155L-1.189,-0.386L-0.294,-0.405Z","M-0.88,-0.88H0.88V0.88H-0.88Z"]}}
          }
        }
      ]
    }
  ]
}
